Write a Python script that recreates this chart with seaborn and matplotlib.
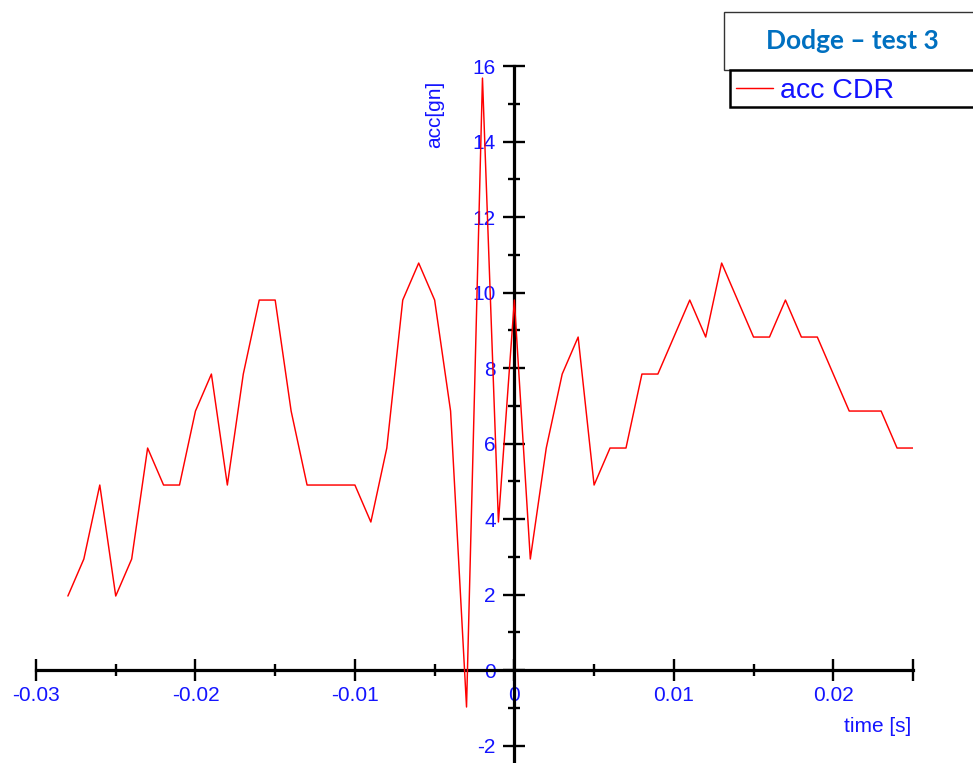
import matplotlib
matplotlib.use("Agg")
import matplotlib.pyplot as plt
from matplotlib.patches import Rectangle
from matplotlib.ticker import FixedLocator, FixedFormatter
import numpy as np
import pandas as pd
import seaborn as sns

# Sampled acceleration trace around the event (time in seconds, acceleration in g)
time_s = [
    -0.028, -0.027, -0.026, -0.025, -0.024, -0.023, -0.022, -0.021, -0.020,
    -0.019, -0.018, -0.017, -0.016, -0.015, -0.014, -0.013, -0.012, -0.011,
    -0.010, -0.009, -0.008, -0.007, -0.006, -0.005, -0.004, -0.003, -0.002,
    -0.001, 0.000, 0.001, 0.002, 0.003, 0.004, 0.005, 0.006, 0.007, 0.008,
    0.009, 0.010, 0.011, 0.012, 0.013, 0.014, 0.015, 0.016, 0.017, 0.018,
    0.019, 0.020, 0.021, 0.022, 0.023, 0.024, 0.025,
]
acc_cdr = [
    1.96, 2.94, 4.90, 1.96, 2.94, 5.88, 4.90, 4.90, 6.86,
    7.84, 4.90, 7.84, 9.80, 9.80, 6.86, 4.90, 4.90, 4.90,
    4.90, 3.92, 5.88, 9.80, 10.78, 9.80, 6.86, -0.98, 15.68,
    3.92, 9.80, 2.94, 5.88, 7.84, 8.82, 4.90, 5.88, 5.88, 7.84,
    7.84, 8.82, 9.80, 8.82, 10.78, 9.80, 8.82, 8.82, 9.80, 8.82,
    8.82, 7.84, 6.86, 6.86, 6.86, 5.88, 5.88,
]

x_major = [-0.03, -0.02, -0.01, 0.0, 0.01, 0.02, 0.025]
x_major_labels = ["-0.03", "-0.02", "-0.01", "0", "0.01", "0.02", ""]
x_minor = [-0.025, -0.015, -0.005, 0.005, 0.015]
y_major = [-2, 0, 2, 4, 6, 8, 10, 12, 14, 16]
y_minor = [-1, 1, 3, 5, 7, 9, 11, 13, 15]

series_name = "acc CDR"
chart_title = "Dodge \u2013 test 3"

sns.set_style("white")
plt.rcParams["font.family"] = ["Liberation Sans", "DejaVu Sans"]

W, H = 973, 763
fig = plt.figure(figsize=(W / 100, H / 100), dpi=100)

# axes box in pixel terms
left_px, right_px = 36, 913
top_px, bottom_px = 66, 762.5
ax = fig.add_axes([left_px / W, 1 - bottom_px / H,
                   (right_px - left_px) / W, (bottom_px - top_px) / H])

df = pd.DataFrame({"time": time_s, "acc": acc_cdr})
sns.lineplot(data=df, x="time", y="acc", color="#ff0000", linewidth=1.05,
             label=series_name, ax=ax, legend=False)

ax.set_xlim(-0.03, 0.025)
ax.set_ylim(-2.45, 16)

blue = "#1414ff"
axis_lw = 2.3

for side in ("top", "right"):
    ax.spines[side].set_visible(False)
ax.spines["left"].set_position(("data", 0))
ax.spines["bottom"].set_position(("data", 0))
for side in ("left", "bottom"):
    ax.spines[side].set_linewidth(axis_lw)
    ax.spines[side].set_color("black")
    ax.spines[side].set_zorder(1)

ax.xaxis.set_major_locator(FixedLocator(x_major))
ax.xaxis.set_major_formatter(FixedFormatter(x_major_labels))
ax.xaxis.set_minor_locator(FixedLocator(x_minor))
ax.yaxis.set_major_locator(FixedLocator(y_major))
ax.yaxis.set_major_formatter(FixedFormatter([str(v) for v in y_major]))
ax.yaxis.set_minor_locator(FixedLocator(y_minor))

ax.tick_params(which="major", direction="inout", length=16, width=1.7,
               color="black", labelcolor=blue, labelsize=15)
ax.tick_params(which="minor", direction="inout", length=9, width=1.7,
               color="black")
ax.tick_params(axis="x", which="major", pad=3.5)
ax.tick_params(axis="y", which="major", pad=5.4)
ax.tick_params(bottom=True, left=True, which="both")

ax.set_xlabel("time [s]", color=blue, fontsize=15)
ax.set_ylabel("acc[gn]", color=blue, fontsize=15)
ax.xaxis.label.set_horizontalalignment("right")
ax.xaxis.label.set_verticalalignment("center")
ax.xaxis.set_label_coords((911 - left_px) / (right_px - left_px),
                          (bottom_px - 727) / (bottom_px - top_px))
ax.yaxis.label.set_verticalalignment("center")
ax.yaxis.set_label_coords((435 - left_px) / (right_px - left_px),
                          (bottom_px - 114) / (bottom_px - top_px))

ax.grid(False)
ax.set_facecolor("white")
ax.patch.set_alpha(0)


def px_box(x0, y0, x1, y1):
    return (x0 / W, 1 - y1 / H), (x1 - x0) / W, (y1 - y0) / H


# title box
(bx, by), bw, bh = px_box(724, 12, 980, 70)
fig.patches.append(Rectangle((bx, by), bw, bh, transform=fig.transFigure,
                             facecolor="white", edgecolor="#333333",
                             linewidth=1.0, zorder=5))
fig.text(852 / W, 1 - 41 / H, chart_title, ha="center", va="center",
         fontsize=19, fontweight="bold", color="#0070C0",
         family=["Lato", "DejaVu Sans"], zorder=6)

# legend box
(lx, ly), lw_, lh = px_box(730, 70, 980, 107)
fig.patches.append(Rectangle((lx, ly), lw_, lh, transform=fig.transFigure,
                             facecolor="white", edgecolor="black",
                             linewidth=1.8, zorder=5))
handles, labels = ax.get_legend_handles_labels()
leg = fig.legend(handles, labels, loc="center left",
                 bbox_to_anchor=(736 / W, 1 - 91 / H),
                 frameon=False, borderpad=0, borderaxespad=0,
                 handlelength=1.3, handletextpad=0.25, fontsize=20.5)
leg.set_zorder(7)
for t in leg.get_texts():
    t.set_color(blue)

fig.savefig("out.png", dpi=100, facecolor="white")
